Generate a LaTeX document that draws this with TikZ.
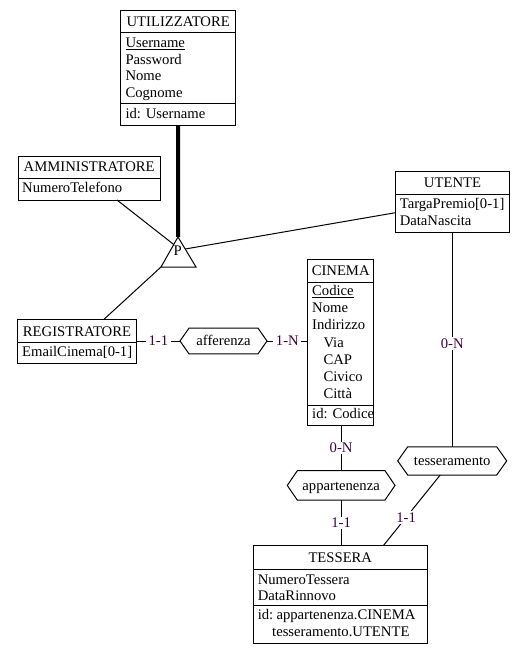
\documentclass[tikz,border=0pt]{standalone}
\usepackage{fontspec}
\setmainfont{Liberation Serif}
\usetikzlibrary{fit,calc}
\definecolor{cardcol}{RGB}{64,0,64}
\newcommand\drawhex[2]{\draw (#1.west) -- ([xshift=#2]#1.north west) -- ([xshift=-#2]#1.north east) -- (#1.east) -- ([xshift=-#2]#1.south east) -- ([xshift=#2]#1.south west) -- cycle;}
\begin{document}
\begin{tikzpicture}[x=0.75pt,y=-0.75pt, font=\fontsize{11}{13}\selectfont, line width=0.75pt,
  ent/.style={draw, inner sep=0pt, outer sep=0pt},
  attr/.style={anchor=base west, inner sep=0pt},
  ttl/.style={anchor=base, inner sep=0pt},
  card/.style={fill=white, text=cardcol, inner xsep=2pt, inner ysep=1pt},
  rel/.style={inner sep=0pt, outer sep=0pt, text height=7pt, text depth=0pt}]
\fill[white] (0,0) rectangle (530,660);
\useasboundingbox (0,0) rectangle (530,660);

% ---------- UTILIZZATORE
\node[ent, fit={(120.7,11) (235.7,125.7)}] (util) {};
\draw (util.west |- 0,32.7) -- (util.east |- 0,32.7);
\draw (util.west |- 0,103.7) -- (util.east |- 0,103.7);
\node[ttl] (utilT) at (178.2,26.5) {UTILIZZATORE};
\node[attr] (utilA1) at (125,47.5) {\underline{Username}};
\node[attr] (utilA2) at (125,64.2) {Password};
\node[attr] (utilA3) at (125,80.9) {Nome};
\node[attr] (utilA4) at (125,97.6) {Cognome};
\node[attr] (utilId) at (125,118.3) {id: Username};

% ---------- AMMINISTRATORE
\node[ent, fit={(18.3,156) (160,200)}] (amm) {};
\draw (amm.west |- 0,178) -- (amm.east |- 0,178);
\node[ttl] (ammT) at (89.2,171) {AMMINISTRATORE};
\node[attr] (ammA1) at (21.7,192.5) {NumeroTelefono};

% ---------- REGISTRATORE
\node[ent, fit={(17.3,319.3) (136.7,363.3)}] (reg) {};
\draw (reg.west |- 0,342.3) -- (reg.east |- 0,342.3);
\node[ttl] (regT) at (77,336) {REGISTRATORE};
\node[attr] (regA1) at (21.7,356.2) {EmailCinema[0-1]};

% ---------- UTENTE
\node[ent, fit={(395.7,171.7) (509.3,232)}] (ute) {};
\draw (ute.west |- 0,194) -- (ute.east |- 0,194);
\node[ttl] (uteT) at (452.5,187.3) {UTENTE};
\node[attr] (uteA1) at (399.3,208) {TargaPremio[0-1]};
\node[attr] (uteA2) at (399.3,225.2) {DataNascita};

% ---------- CINEMA
\node[ent, fit={(307.7,259.3) (373.7,425)}] (cin) {};
\draw (cin.west |- 0,282) -- (cin.east |- 0,282);
\node[ttl] (cinT) at (340.7,275.5) {CINEMA};
\node[attr] (cinA1) at (311.7,295.5) {\underline{Codice}};
\node[attr] (cinA2) at (311.7,312.6) {Nome};
\node[attr] (cinA3) at (311.7,329.8) {Indirizzo};
\node[attr] (cinA4) at (323,347) {Via};
\node[attr] (cinA5) at (323,364.2) {CAP};
\node[attr] (cinA6) at (323,381.4) {Civico};
\node[attr] (cinA7) at (323,398.6) {Città};
\draw (cin.west |- 0,405) -- (cin.east |- 0,405);
\node[attr] (cinId) at (311.7,418.6) {id: Codice};

% ---------- TESSERA
\node[ent, fit={(253.3,545.7) (427.3,643.3)}] (tessera) {};
\draw (tessera.west |- 0,569.3) -- (tessera.east |- 0,569.3);
\draw (tessera.west |- 0,605) -- (tessera.east |- 0,605);
\node[ttl] (tesT) at (340.3,562) {TESSERA};
\node[attr] (tesA1) at (257.3,584) {NumeroTessera};
\node[attr] (tesA2) at (257.3,600) {DataRinnovo};
\node[attr] (tesId) at (257.3,619.8) {id:};
\node[attr] (tesId1) at (276,619.8) {appartenenza.CINEMA};
\node[attr] (tesId2) at (271.7,636.8) {tesseramento.UTENTE};

% ---------- relationships
\node[rel, minimum width=65.25pt, minimum height=19.3pt] (aff) at (223.5,341) {afferenza};
\drawhex{aff}{6.75pt}
\node[rel, minimum width=81.75pt, minimum height=21.2pt] (tes) at (452.2,460.9) {tesseramento};
\drawhex{tes}{7.5pt}
\node[rel, minimum width=80.8pt, minimum height=22pt] (app) at (341.15,485.4) {appartenenza};
\drawhex{app}{7.5pt}

% ---------- generalization
\coordinate (tapex) at (178,237);
\coordinate (tbl) at (161,267);
\coordinate (tbr) at (196,267);
\draw[line width=3pt] (util.south) -- (tapex);
\draw (tapex) -- (tbl) -- (tbr) -- cycle;
\node[ttl] (isa) at (177.6,255.5) {P};
\draw ([xshift=20.9pt]amm.south) -- ($(tapex)!0.25!(tbl)$);
\draw ([xshift=20.25pt]reg.north) -- (tbl);
\draw ($(tapex)!0.4!(tbr)$) -- ([yshift=-8.1pt]ute.west);

% ---------- connectors
\draw (reg.east |- aff.west) -- node[card]{1-1} (aff.west);
\draw (aff.east) -- node[card]{1-N} (aff.east -| cin.west);
\draw (app.north |- cin.south) -- node[card]{0-N} (app.north);
\draw (app.south) -- node[card]{1-1} (app.south |- tessera.north);
\draw (tes.north |- ute.south) -- node[card,pos=0.52]{0-N} (tes.north);
\draw ([xshift=-9pt]tes.south) -- node[card,pos=0.6]{1-1} ([xshift=32.25pt]tessera.north);
\end{tikzpicture}
\end{document}
